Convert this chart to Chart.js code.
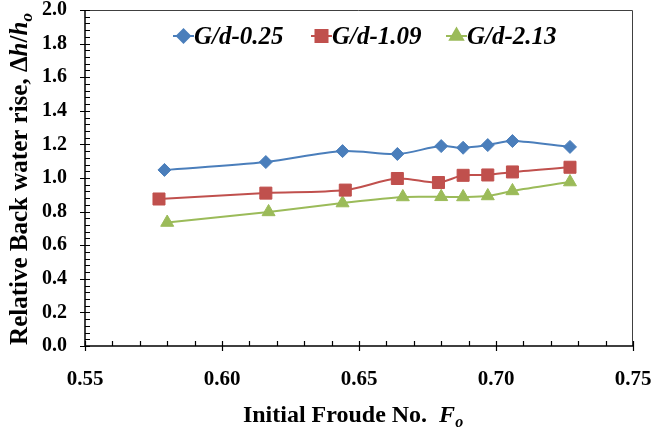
<!DOCTYPE html>
<html>
<head>
<meta charset="utf-8">
<script src="https://cdn.jsdelivr.net/npm/chart.js@4.4.1/dist/chart.umd.min.js"></script>
<style>
  html, body { margin: 0; padding: 0; background: #fff; }
  #wrap { width: 652px; height: 429px; }
</style>
</head>
<body>
<div id="wrap"><canvas id="chart"></canvas></div>
<script>
// Data
const froudeA = [0.579, 0.616, 0.644, 0.664, 0.680, 0.688, 0.697, 0.706, 0.727];
const riseA = [1.048, 1.095, 1.160, 1.143, 1.190, 1.180, 1.196, 1.220, 1.185];
const froudeB = [0.577, 0.616, 0.645, 0.664, 0.679, 0.688, 0.697, 0.706, 0.727];
const riseB = [0.875, 0.910, 0.928, 0.997, 0.973, 1.016, 1.018, 1.036, 1.064];
const froudeC = [0.580, 0.617, 0.644, 0.666, 0.680, 0.688, 0.697, 0.706, 0.727];
const riseC = [0.735, 0.798, 0.851, 0.887, 0.888, 0.887, 0.893, 0.923, 0.976];
const seriesLabels = ['G/d-0.25', 'G/d-1.09', 'G/d-2.13'];

const FONT = '"Liberation Serif", "Times New Roman", serif';

function toPoints(xs, ys) {
  return xs.map((x, i) => ({ x, y: ys[i] }));
}

function makeSet(label, xs, ys, color, style, radius) {
  return {
    label,
    data: toPoints(xs, ys),
    borderColor: color,
    backgroundColor: color,
    borderWidth: 2,
    pointStyle: style,
    pointRadius: radius,
    pointHoverRadius: radius,
    pointBorderWidth: 1,
    tension: 0.3,
  };
}

// draw mixed-style text pieces in a row, centred on cx
function drawPieces(ctx, pieces, cx, cy) {
  let total = 0;
  pieces.forEach(p => { ctx.font = p.font; total += ctx.measureText(p.text).width; });
  let x = cx - total / 2;
  pieces.forEach(p => {
    ctx.font = p.font;
    ctx.fillText(p.text, x, cy + (p.dy || 0));
    x += ctx.measureText(p.text).width;
  });
}

// frame, tick marks, axis titles and legend
const decorPlugin = {
  id: 'decor',
  afterDraw(chart) {
    const { ctx, chartArea: a, scales } = chart;
    const xs = scales.x, ys = scales.y;
    ctx.save();

    // top / right frame
    ctx.strokeStyle = '#404040';
    ctx.lineWidth = 1;
    ctx.beginPath();
    ctx.moveTo(a.left, a.top + 0.5);
    ctx.lineTo(a.right - 0.5, a.top + 0.5);
    ctx.lineTo(a.right - 0.5, a.bottom);
    ctx.stroke();

    // axis lines
    ctx.strokeStyle = '#000';
    ctx.lineWidth = 1.5;
    ctx.beginPath();
    ctx.moveTo(a.left, a.top);
    ctx.lineTo(a.left, a.bottom);
    ctx.lineTo(a.right, a.bottom);
    ctx.stroke();

    // x ticks: major cross the axis, minor inside
    ctx.lineWidth = 1.2;
    ctx.beginPath();
    for (let i = 0; i <= 20; i++) {
      const v = xs.min + i * 0.01;
      const px = Math.round(xs.getPixelForValue(v)) + 0.5;
      if (i % 5 === 0) {
        ctx.moveTo(px, a.bottom - 5);
        ctx.lineTo(px, a.bottom + 5);
      } else {
        ctx.moveTo(px, a.bottom - 5);
        ctx.lineTo(px, a.bottom);
      }
    }
    // y ticks
    for (let i = 0; i <= 50; i++) {
      const v = ys.min + i * 0.04;
      const py = Math.round(ys.getPixelForValue(v)) + 0.5;
      if (i % 5 === 0) {
        ctx.moveTo(a.left - 5, py);
        ctx.lineTo(a.left + 5, py);
      } else {
        ctx.moveTo(a.left, py);
        ctx.lineTo(a.left + 5, py);
      }
    }
    ctx.stroke();

    // axis titles
    ctx.fillStyle = '#000';
    ctx.textBaseline = 'alphabetic';
    ctx.textAlign = 'left';
    const big = 'bold 24px ' + FONT;
    const bigI = 'bold italic 24px ' + FONT;
    const sub = 'bold italic 16px ' + FONT;
    drawPieces(ctx, [
      { text: 'Initial Froude No.  ', font: big },
      { text: 'F', font: bigI },
      { text: 'o', font: sub, dy: 5 },
    ], (a.left + a.right) / 2 - 6, 422);

    const yBig = 'bold 25px ' + FONT;
    const yBigI = 'bold italic 25px ' + FONT;
    const ySub = 'bold italic 17px ' + FONT;
    ctx.save();
    ctx.translate(27, (a.top + a.bottom) / 2 + 1);
    ctx.rotate(-Math.PI / 2);
    drawPieces(ctx, [
      { text: 'Relative Back water rise, ', font: yBig },
      { text: '\u0394', font: yBig },
      { text: 'h', font: yBigI },
      { text: '/', font: yBig },
      { text: 'h', font: yBigI },
      { text: 'o', font: ySub, dy: 5 },
    ], 0, 0);
    ctx.restore();

    // legend inside the plot area
    const legendX = [173, 311, 446];
    const legendY = 36;
    chart.data.datasets.forEach((ds, i) => {
      const x0 = legendX[i];
      ctx.strokeStyle = ds.borderColor;
      ctx.lineWidth = 2;
      ctx.beginPath();
      ctx.moveTo(x0, legendY);
      ctx.lineTo(x0 + 21, legendY);
      ctx.stroke();
      Chart.helpers.drawPoint(ctx, {
        pointStyle: ds.pointStyle,
        radius: ds.pointRadius,
        borderWidth: 1,
        rotation: 0,
      }, x0 + 10.5, legendY);
      ctx.fillStyle = ds.borderColor;
      ctx.fill();
      ctx.fillStyle = '#000';
      ctx.font = 'bold italic 25px ' + FONT;
      ctx.textBaseline = 'alphabetic';
      ctx.fillText(ds.label, x0 + 21, 44);
    });
    ctx.restore();
  }
};

const chart = new Chart(document.getElementById('chart'), {
  type: 'line',
  data: {
    datasets: [
      makeSet(seriesLabels[0], froudeA, riseA, '#4A7EBB', 'rectRot', 6.5),
      makeSet(seriesLabels[1], froudeB, riseB, '#C0504D', 'rect', 8.5),
      makeSet(seriesLabels[2], froudeC, riseC, '#9BBB59', 'triangle', 7.5),
    ],
  },
  options: {
    responsive: true,
    maintainAspectRatio: false,
    animation: false,
    layout: { padding: 0 },
    plugins: {
      legend: { display: false },
      tooltip: { enabled: false },
    },
    scales: {
      x: {
        type: 'linear',
        min: 0.55,
        max: 0.75,
        ticks: {
          stepSize: 0.05,
          padding: 21,
          color: '#000',
          font: { family: FONT, size: 21, weight: 'bold' },
          callback: v => v.toFixed(2),
        },
        grid: { display: false, drawTicks: false },
        border: { display: false },
        afterFit(scale) {
          scale.height = 83;
          scale.paddingLeft = 0;
          scale.paddingRight = 19;
        },
      },
      y: {
        min: 0,
        max: 2,
        ticks: {
          stepSize: 0.2,
          padding: 18,
          color: '#000',
          font: { family: FONT, size: 20, weight: 'bold' },
          callback: v => v.toFixed(1),
        },
        grid: { display: false, drawTicks: false },
        border: { display: false },
        afterFit(scale) {
          scale.width = 85;
          scale.paddingTop = 10;
          scale.paddingBottom = 0;
        },
      },
    },
  },
  plugins: [decorPlugin],
});
</script>
</body>
</html>
